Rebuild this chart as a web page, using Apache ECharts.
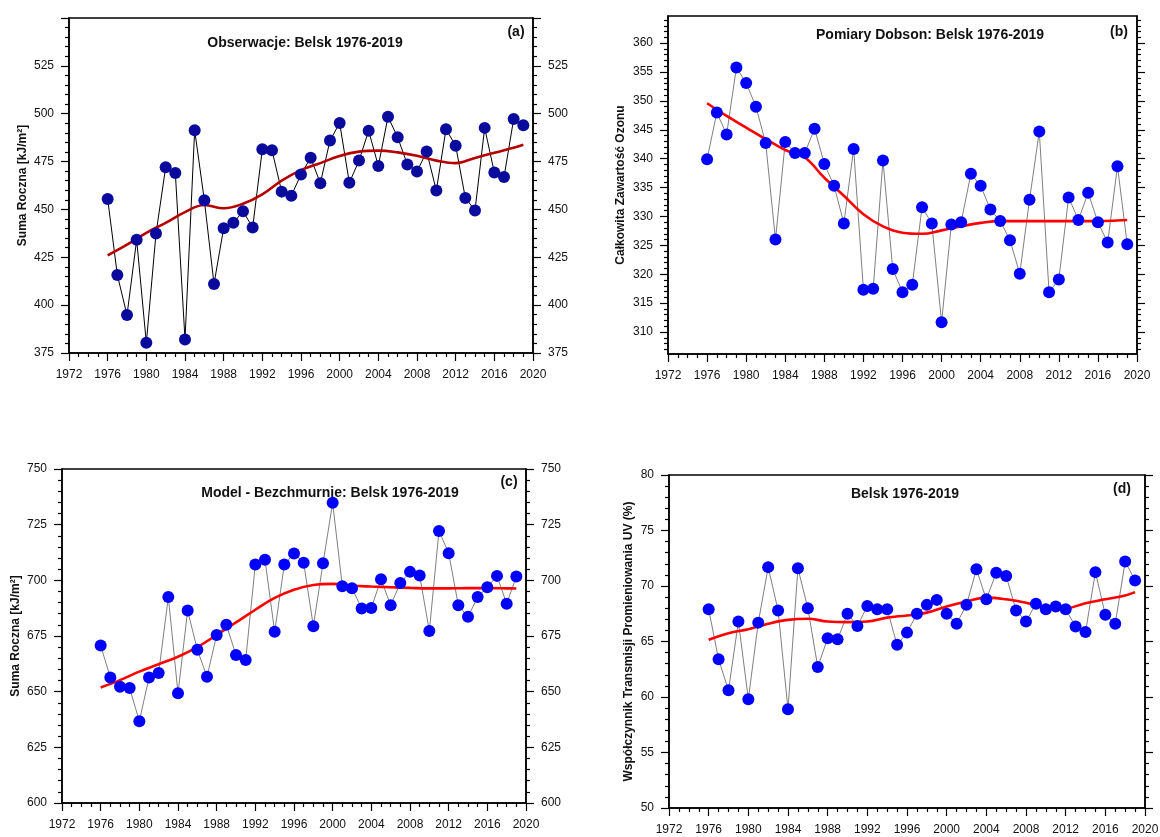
<!DOCTYPE html>
<html>
<head>
<meta charset="utf-8">
<script src="https://cdn.jsdelivr.net/npm/echarts@6/dist/echarts.min.js"></script>
<style>
html, body { margin: 0; padding: 0; background: #fff; overflow: hidden; }
#main { width: 1160px; height: 837px; }
</style>
</head>
<body>
<div id="main"></div>
<script>
// roczne wartosci 1976-2019
var years = [1976, 1977, 1978, 1979, 1980, 1981, 1982, 1983, 1984, 1985,
             1986, 1987, 1988, 1989, 1990, 1991, 1992, 1993, 1994, 1995,
             1996, 1997, 1998, 1999, 2000, 2001, 2002, 2003, 2004, 2005,
             2006, 2007, 2008, 2009, 2010, 2011, 2012, 2013, 2014, 2015,
             2016, 2017, 2018, 2019];

// (a) obserwacje, suma roczna kJ/m2
var obsSum = [455.5, 415.8, 394.8, 434.1, 380.3, 437.4, 472.0, 469.0, 382.0, 491.4,
              454.8, 411.1, 440.2, 443.0, 449.0, 440.6, 481.4, 480.9, 459.3, 457.2,
              468.3, 477.0, 463.7, 486.0, 495.1, 463.9, 475.5, 491.1, 472.7, 498.4,
              487.7, 473.5, 469.8, 480.2, 459.9, 491.9, 483.3, 456.0, 449.5, 492.6,
              469.3, 466.9, 497.2, 494.0];

// (b) Dobson, calkowity ozon
var dobson = [339.9, 348.0, 344.2, 355.8, 353.1, 349.0, 342.7, 326.0, 342.9, 341.0,
              341.0, 345.2, 339.1, 335.3, 328.8, 341.7, 317.3, 317.5, 339.7, 320.9,
              316.9, 318.2, 331.6, 328.8, 311.7, 328.6, 329.0, 337.4, 335.3, 331.2,
              329.2, 325.9, 320.1, 332.9, 344.7, 316.9, 319.1, 333.3, 329.4, 334.1,
              329.0, 325.5, 338.7, 325.2];

// (c) model bezchmurny
var clearSky = [670.7, 656.4, 652.2, 651.6, 636.7, 656.4, 658.4, 692.5, 649.3, 686.4,
                668.8, 656.7, 675.4, 680.0, 666.5, 664.2, 707.1, 709.2, 676.9, 707.1,
                712.1, 707.9, 679.4, 707.7, 734.8, 697.3, 696.4, 687.4, 687.6, 700.5,
                688.8, 698.8, 703.8, 702.2, 677.2, 722.2, 712.2, 688.8, 683.6, 692.5,
                696.9, 702.0, 689.5, 701.7];

// (d) wspolczynnik transmisji UV (%)
var uvTrans = [67.9, 63.4, 60.6, 66.8, 59.8, 66.7, 71.7, 67.8, 58.9, 71.6,
               68.0, 62.7, 65.3, 65.2, 67.5, 66.4, 68.2, 67.9, 67.9, 64.7,
               65.8, 67.5, 68.3, 68.75, 67.5, 66.6, 68.3, 71.5, 68.8, 71.2,
               70.9, 67.8, 66.8, 68.4, 67.9, 68.15, 67.9, 66.35, 65.85, 71.25,
               67.4, 66.6, 72.2, 70.5];

// wygladzone krzywe (odczytane co 2 lata)
var trendYears = [1976, 1978, 1980, 1982, 1984, 1986, 1988, 1990, 1992, 1994, 1996,
                  1998, 2000, 2002, 2004, 2006, 2008, 2010, 2012, 2014, 2016, 2018, 2019];
var obsSumTrend = [426.0, 431.6, 437.8, 443.0, 448.6, 452.3, 450.6, 453.0, 457.9, 465.0, 470.5,
                   474.2, 477.9, 480.2, 480.7, 479.8, 478.0, 475.5, 474.2, 476.9, 479.6, 482.2, 483.8];
var dobsonTrend = [349.6, 347.4, 345.4, 343.4, 341.5, 340.2, 336.7, 333.6, 330.4, 328.3, 327.2,
                   327.0, 327.6, 328.3, 328.9, 329.2, 329.2, 329.2, 329.2, 329.2, 329.2, 329.3, 329.4];
var clearSkyTrend = [651.9, 655.2, 659.0, 662.3, 665.7, 670.0, 675.5, 681.1, 686.8, 692.1, 695.8,
                     697.9, 698.4, 697.6, 697.2, 696.9, 696.6, 696.4, 696.4, 696.5, 696.5, 696.4, 696.3];
var uvTransTrend = [65.15, 65.75, 66.1, 66.6, 66.95, 67.05, 66.8, 66.75, 66.8, 67.15, 67.35,
                    67.6, 68.15, 68.6, 68.95, 68.8, 68.5, 68.05, 68.0, 68.45, 68.8, 69.15, 69.45];

// etykiety osi ozonu
var dobsonTicks = [310, 315, 320, 325, 330, 335, 340, 345, 350, 355, 360];

var FONT = 'Liberation Sans, Arial, sans-serif';

var pairs = function (xs, ys) {
  return xs.map(function (x, i) { return [x, ys[i]]; });
};

var grids = [
  { left: 69, top: 18, width: 464, height: 335 },
  { left: 668, top: 16, width: 469, height: 338 },
  { left: 62, top: 469, width: 464, height: 334 },
  { left: 669, top: 475, width: 476, height: 333 }
];

var panels = [
  { name: 'Suma Roczna [kJ/m²]', nameGap: 40, min: 375, max: 550, interval: 25, minorSplit: 5,
    showMax: false, rightLabels: true, obs: obsSum, trend: obsSumTrend,
    mark: '#0a0a9c', link: '#000', trendColor: '#b40000',
    title: 'Obserwacje: Belsk 1976-2019', tx: 305, ty: 43, tag: '(a)', gx: 516, gy: 32 },
  { name: 'Całkowita Zawartość Ozonu', nameGap: 41, min: 306.2, max: 364.7, custom: true,
    rightLabels: false, obs: dobson, trend: dobsonTrend,
    mark: '#0000ff', link: '#808080', trendColor: '#ff0000',
    title: 'Pomiary Dobson: Belsk 1976-2019', tx: 930, ty: 35, tag: '(b)', gx: 1119, gy: 32 },
  { name: 'Suma Roczna [kJ/m²]', nameGap: 40, min: 600, max: 750, interval: 25, minorSplit: 5,
    showMax: true, rightLabels: true, obs: clearSky, trend: clearSkyTrend,
    mark: '#0000ff', link: '#808080', trendColor: '#ff0000',
    title: 'Model - Bezchmurnie: Belsk 1976-2019', tx: 330, ty: 493, tag: '(c)', gx: 509, gy: 482 },
  { name: 'Współczynnik Transmisji Promieniowania UV (%)', nameGap: 34, min: 50, max: 80, interval: 5, minorSplit: 5,
    showMax: true, rightLabels: false, obs: uvTrans, trend: uvTransTrend,
    mark: '#0000ff', link: '#808080', trendColor: '#ff0000',
    title: 'Belsk 1976-2019', tx: 905, ty: 494, tag: '(d)', gx: 1122, gy: 489 }
];

var minorDobson = [];
for (var v = 307; v <= 364; v++) {
  if (v % 5 !== 0) minorDobson.push(v);
}

var xAxes = [], yAxes = [], series = [], graphics = [];

panels.forEach(function (p, gi) {
  xAxes.push({
    gridIndex: gi, type: 'value', min: 1972, max: 2020, interval: 4,
    axisLine: { onZero: false, lineStyle: { color: '#000', width: 1.5 } },
    axisTick: { length: 8, lineStyle: { color: '#000', width: 1.2 } },
    minorTick: { show: true, splitNumber: 4, length: 4, lineStyle: { color: '#000', width: 1.2 } },
    splitLine: { show: false },
    axisLabel: { margin: 16, fontSize: 12, color: '#111', fontFamily: FONT,
                 formatter: function (val) { return String(val); } }
  });

  var leftIndex = yAxes.length;
  ['left', 'right'].forEach(function (pos) {
    var ax = {
      gridIndex: gi, type: 'value', position: pos, min: p.min, max: p.max,
      axisLine: { show: true, onZero: false, lineStyle: { color: '#000', width: 1.5 } },
      axisTick: { length: 8, lineStyle: { color: '#000', width: 1.2 } },
      splitLine: { show: false },
      axisLabel: { show: pos === 'left' || p.rightLabels, margin: 15, fontSize: 12, color: '#111',
                   fontFamily: FONT, showMaxLabel: p.showMax }
    };
    if (pos === 'left') {
      ax.name = p.name;
      ax.nameLocation = 'middle';
      ax.nameGap = p.nameGap;
      ax.nameTextStyle = { fontSize: 12, fontWeight: 'bold', color: '#111', fontFamily: FONT };
    }
    if (p.custom) {
      ax.axisLabel.customValues = dobsonTicks;
      ax.axisTick.customValues = dobsonTicks;
    } else {
      ax.interval = p.interval;
      ax.minorTick = { show: true, splitNumber: p.minorSplit, length: 4, lineStyle: { color: '#000', width: 1.2 } };
    }
    yAxes.push(ax);
  });
  if (p.custom) {
    // drobne kreski co 1 DU
    ['left', 'right'].forEach(function (pos) {
      yAxes.push({
        gridIndex: gi, type: 'value', position: pos, min: p.min, max: p.max,
        axisLine: { show: false },
        axisTick: { show: true, length: 4, customValues: minorDobson, lineStyle: { color: '#000', width: 1.2 } },
        axisLabel: { show: false },
        splitLine: { show: false }
      });
    });
  }

  series.push({
    type: 'line', xAxisIndex: gi, yAxisIndex: leftIndex,
    data: pairs(years, p.obs),
    symbol: 'circle', symbolSize: 12, showAllSymbol: true,
    itemStyle: { color: p.mark },
    lineStyle: { color: p.link, width: 1 }
  });
  series.push({
    type: 'line', xAxisIndex: gi, yAxisIndex: leftIndex,
    data: pairs(trendYears, p.trend),
    smooth: 0.4, showSymbol: false,
    lineStyle: { color: p.trendColor, width: 2.6 }
  });

  graphics.push({
    type: 'text', x: p.tx, y: p.ty,
    style: { text: p.title, font: 'bold 14px ' + FONT, fill: '#111', textAlign: 'center', textVerticalAlign: 'middle' }
  });
  graphics.push({
    type: 'text', x: p.gx, y: p.gy,
    style: { text: p.tag, font: 'bold 14px ' + FONT, fill: '#111', textAlign: 'center', textVerticalAlign: 'middle' }
  });
});

var chart = echarts.init(document.getElementById('main'), null, { renderer: 'canvas' });
chart.setOption({
  animation: false,
  backgroundColor: '#fff',
  grid: grids.map(function (g) {
    return { left: g.left, top: g.top, width: g.width, height: g.height, containLabel: false,
             outerBoundsMode: 'none',
             show: true, borderColor: '#000', borderWidth: 1.5, backgroundColor: 'transparent' };
  }),
  xAxis: xAxes,
  yAxis: yAxes,
  series: series,
  graphic: graphics
});
</script>
</body>
</html>
